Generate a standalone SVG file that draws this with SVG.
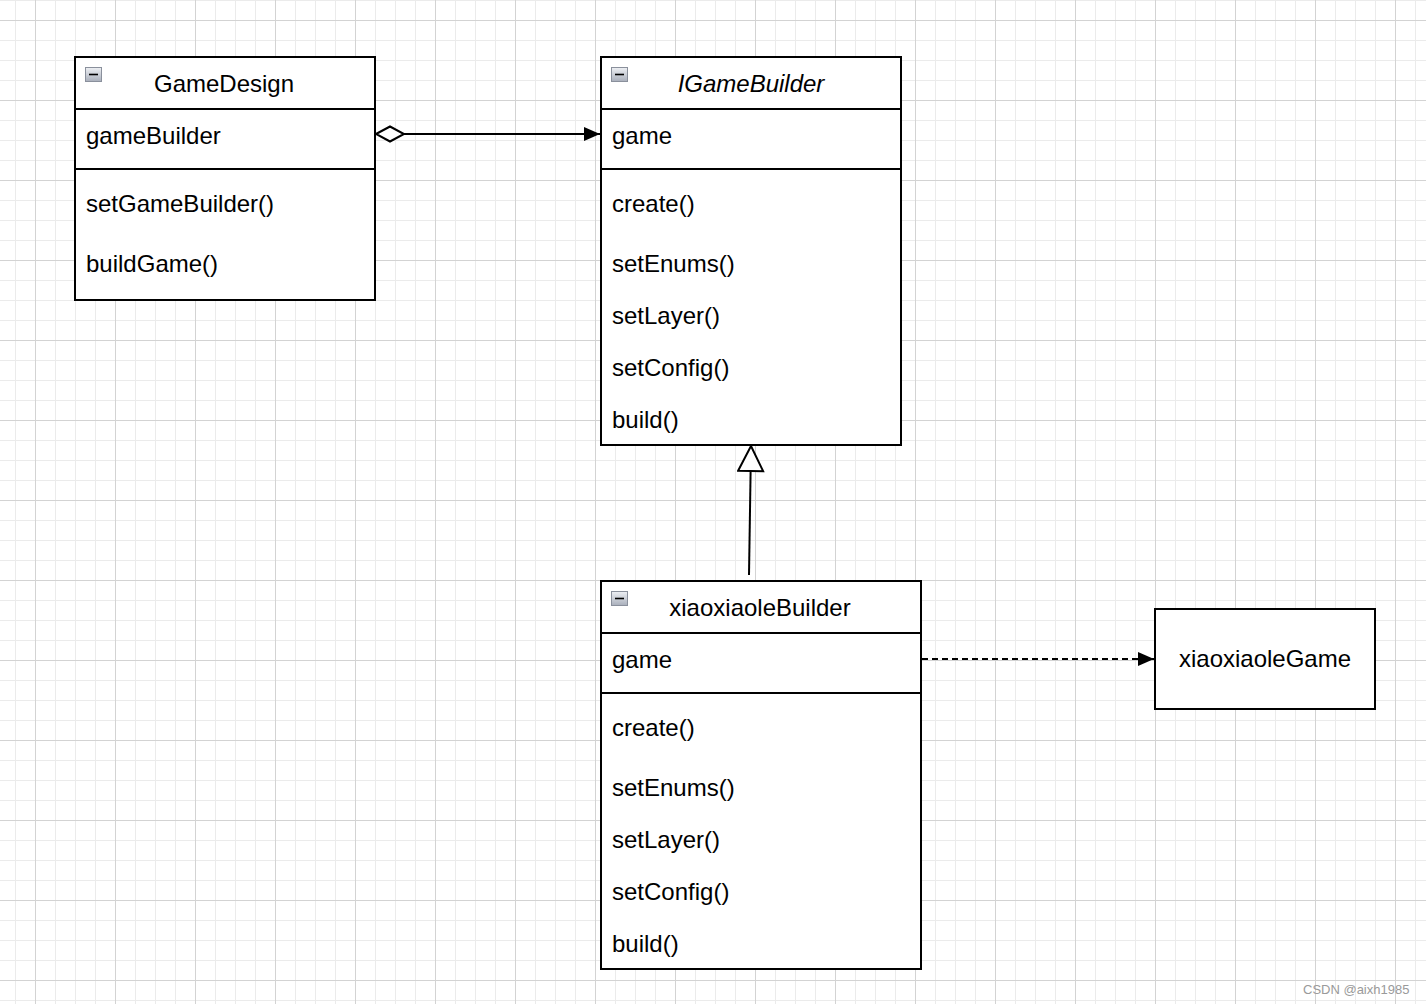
<svg xmlns="http://www.w3.org/2000/svg" width="1426" height="1004" viewBox="0 0 1426 1004">
<defs>
<pattern id="minor" x="15" y="0" width="20" height="20" patternUnits="userSpaceOnUse">
<path d="M0.5 0V20M0 0.5H20" fill="none" stroke="#ebebeb" stroke-width="1"/>
</pattern>
<pattern id="major" x="35" y="20" width="80" height="80" patternUnits="userSpaceOnUse">
<path d="M0.5 0V80M0 0.5H80" fill="none" stroke="#d3d3d3" stroke-width="1"/>
</pattern>
<linearGradient id="ig" x1="0" y1="0" x2="0" y2="1">
<stop offset="0" stop-color="#eef0f4"/>
<stop offset="1" stop-color="#a9afbb"/>
</linearGradient>
<symbol id="collapse" viewBox="0 0 17 15" overflow="visible">
<rect x="0.5" y="0.5" width="16" height="14" fill="url(#ig)" stroke="#8a909c"/>
<path d="M4 7.5H13" stroke="#000" stroke-width="1.6"/>
</symbol>
<marker id="filled" viewBox="0 0 16 14" refX="16" refY="7" markerWidth="16" markerHeight="14" markerUnits="userSpaceOnUse" orient="auto">
<path d="M0 0L16 7L0 14Z" fill="#000"/>
</marker>
<marker id="diamond" viewBox="0 0 32 18" refX="1" refY="9" markerWidth="32" markerHeight="18" markerUnits="userSpaceOnUse" orient="auto">
<path d="M1 9L15 1.5L29 9L15 16.5Z" fill="#fff" stroke="#000" stroke-width="2"/>
</marker>
<marker id="triangle" viewBox="0 0 28 28" refX="27" refY="14" markerWidth="28" markerHeight="28" markerUnits="userSpaceOnUse" orient="auto">
<path d="M2 1.5L27 14L2 26.5Z" fill="#fff" stroke="#000" stroke-width="2"/>
</marker>
</defs>
<style>
.box{fill:#fff;stroke:#000;stroke-width:2}
.sep{stroke:#000;stroke-width:2}
text{font-family:"Liberation Sans",Arial,sans-serif;font-size:24px;fill:#000}
.title{text-anchor:middle}
.it{font-style:italic}
.conn{fill:none;stroke:#000;stroke-width:2}
.wm{font-size:13px;fill:#9a9a9a}
</style>
<rect width="1426" height="1004" fill="#fff"/>
<rect width="1426" height="1004" fill="url(#minor)"/>
<rect width="1426" height="1004" fill="url(#major)"/>

<g id="GameDesign">
<rect class="box" x="75" y="57" width="300" height="243"/>
<line class="sep" x1="75" y1="109" x2="375" y2="109"/>
<line class="sep" x1="75" y1="169" x2="375" y2="169"/>
<use href="#collapse" x="85" y="67" width="17" height="15"/>
<text class="title" x="224" y="92">GameDesign</text>
<text x="86" y="144">gameBuilder</text>
<text x="86" y="212">setGameBuilder()</text>
<text x="86" y="272">buildGame()</text>
</g>

<g id="IGameBuilder">
<rect class="box" x="601" y="57" width="300" height="388"/>
<line class="sep" x1="601" y1="109" x2="901" y2="109"/>
<line class="sep" x1="601" y1="169" x2="901" y2="169"/>
<use href="#collapse" x="611" y="67" width="17" height="15"/>
<text class="title it" x="751" y="92">IGameBuilder</text>
<text x="612" y="144">game</text>
<text x="612" y="212">create()</text>
<text x="612" y="272">setEnums()</text>
<text x="612" y="324">setLayer()</text>
<text x="612" y="376">setConfig()</text>
<text x="612" y="428">build()</text>
</g>

<g id="xiaoxiaoleBuilder">
<rect class="box" x="601" y="581" width="320" height="388"/>
<line class="sep" x1="601" y1="633" x2="921" y2="633"/>
<line class="sep" x1="601" y1="693" x2="921" y2="693"/>
<use href="#collapse" x="611" y="591" width="17" height="15"/>
<text class="title" x="760" y="616">xiaoxiaoleBuilder</text>
<text x="612" y="668">game</text>
<text x="612" y="736">create()</text>
<text x="612" y="796">setEnums()</text>
<text x="612" y="848">setLayer()</text>
<text x="612" y="900">setConfig()</text>
<text x="612" y="952">build()</text>
</g>

<g id="xiaoxiaoleGame">
<rect class="box" x="1155" y="609" width="220" height="100"/>
<text class="title" x="1265" y="667">xiaoxiaoleGame</text>
</g>

<g id="connectors">
<path class="conn" d="M376 134H600" marker-start="url(#diamond)" marker-end="url(#filled)"/>
<path class="conn" d="M749 575L751 446" marker-end="url(#triangle)"/>
<path class="conn" d="M922 659H1154" stroke-dasharray="6 4" marker-end="url(#filled)"/>
</g>

<text class="wm" x="1303" y="994">CSDN @aixh1985</text>
</svg>
